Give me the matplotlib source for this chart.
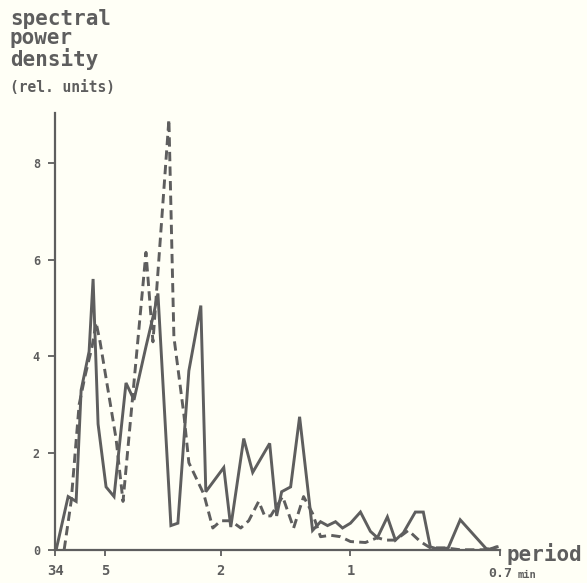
import matplotlib
matplotlib.use('Agg')
import matplotlib.pyplot as plt

# position along the frequency axis (0 = 34 min end, 446 = 0.7 min end)
solid_x = [1, 13, 21, 26, 34, 38, 43, 51, 59, 71, 79, 91, 99, 103, 116, 123, 134, 146,
           151, 169, 176, 189, 198, 215, 222, 227, 236, 245, 258, 266, 273, 281, 288,
           296, 306, 316, 323, 333, 341, 349, 361, 369, 376, 386, 394, 406, 433, 443]
solid_y = [0.0, 1.1, 1.0, 3.3, 4.1, 5.6, 2.6, 1.3, 1.1, 3.45, 3.1, 4.2, 4.9, 5.3, 0.5,
           0.55, 3.7, 5.05, 1.2, 1.7, 0.47, 2.3, 1.6, 2.2, 0.7, 1.2, 1.3, 2.75, 0.4, 0.58,
           0.5, 0.58, 0.45, 0.55, 0.78, 0.38, 0.25, 0.68, 0.2, 0.35, 0.78, 0.78, 0.06,
           0.0, 0.04, 0.62, 0.0, 0.06]

dash_x = [9, 16, 24, 30, 37, 41, 45, 61, 68, 91, 98, 114, 119, 129, 134, 149, 158, 166,
          176, 186, 194, 204, 210, 216, 228, 239, 249, 258, 266, 276, 286, 296, 311,
          323, 331, 341, 354, 366, 376, 391, 406, 429, 443]
dash_y = [0.0, 1.0, 3.0, 3.6, 4.2, 4.7, 4.3, 2.3, 1.0, 6.15, 4.3, 8.9, 4.4, 2.8, 1.8,
          1.15, 0.45, 0.6, 0.6, 0.45, 0.6, 1.0, 0.7, 0.7, 1.1, 0.45, 1.1, 0.75, 0.27,
          0.3, 0.27, 0.17, 0.15, 0.25, 0.2, 0.2, 0.4, 0.17, 0.04, 0.04, 0.0, 0.0, 0.06]

tick_pos = [0, 50, 166, 296]
tick_labels = ['34', '5', '2', '1']
ytick_vals = [0, 2, 4, 6, 8]

ink = '#5e5e5e'
paper = '#fffff6'
mono = 'DejaVu Sans Mono'

fig = plt.figure(figsize=(5.87, 5.83), dpi=100, facecolor=paper)
ax = fig.add_axes([0.094, 0.057, 0.758, 0.749], facecolor=paper)

ax.plot(solid_x, solid_y, color=ink, lw=2.1, solid_joinstyle='miter')
ax.plot(dash_x, dash_y, color=ink, lw=2.1, linestyle=(0, (3.2, 1.8)))

ax.set_xlim(0, 446)
ax.set_ylim(0, 9.03)
for s in ['top', 'right']:
    ax.spines[s].set_visible(False)
for s in ['left', 'bottom']:
    ax.spines[s].set_color(ink)
    ax.spines[s].set_linewidth(1.6)

ax.set_yticks(ytick_vals)
ax.set_yticklabels([str(v) for v in ytick_vals], fontsize=8.5, family=mono,
                   fontweight='bold', color=ink)
ax.tick_params(axis='y', direction='out', length=5, width=1.3, color=ink, pad=6)
ax.set_xticks(tick_pos + [446])
ax.set_xticklabels(tick_labels + [''], fontsize=10, family=mono,
                   fontweight='bold', color=ink)
ax.tick_params(axis='x', direction='out', length=4, width=1.3, color=ink, pad=6)

ax.text(446, -0.5, '0.7', fontsize=9.5, family=mono, fontweight='bold', color=ink,
        ha='center', va='center', clip_on=False)
ax.text(464, -0.52, 'min', fontsize=7.5, family=mono, fontweight='bold', color=ink,
        ha='left', va='center', clip_on=False)
ax.text(452, -0.08, 'period', fontsize=15, family=mono, fontweight='bold', color=ink,
        ha='left', va='center', clip_on=False)

fig.text(0.017, 0.985, 'spectral\npower\ndensity', fontsize=15, family=mono,
         fontweight='bold', color=ink, ha='left', va='top', linespacing=0.98)
fig.text(0.017, 0.850, '(rel. units)', fontsize=10.5, family=mono,
         fontweight='bold', color=ink, ha='left', va='center')

fig.savefig('out.png', dpi=100, facecolor=paper)
